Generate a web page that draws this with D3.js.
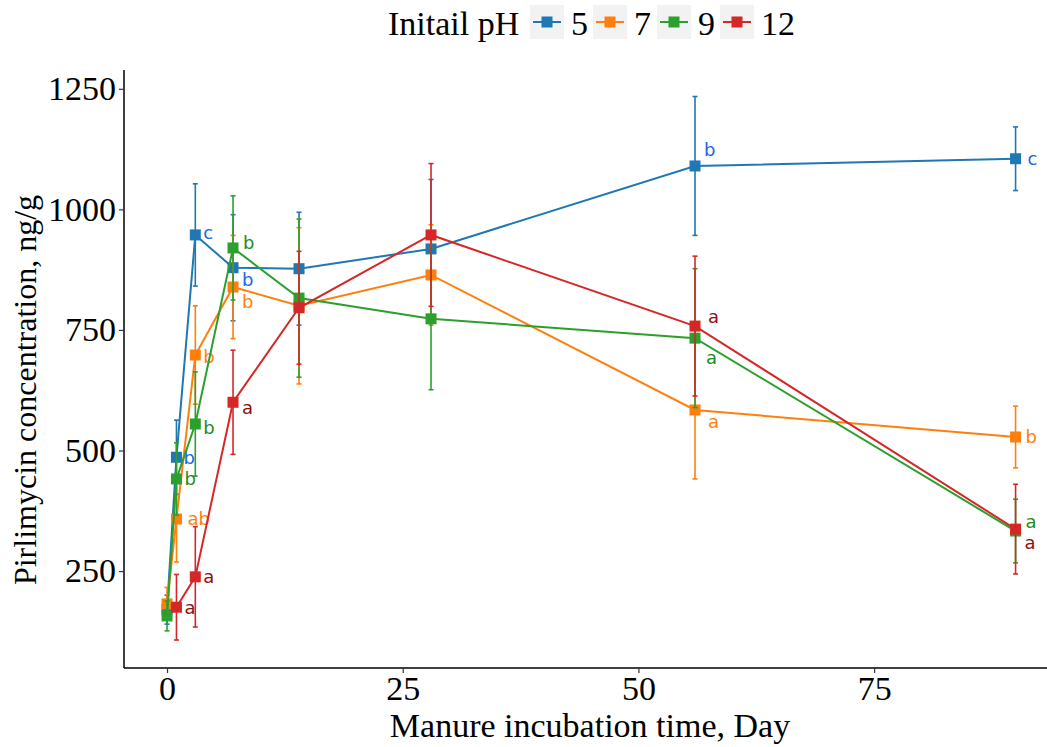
<!DOCTYPE html>
<html><head><meta charset="utf-8">
<script src="https://cdn.jsdelivr.net/npm/d3@7"></script>
<style>body{margin:0;background:#fff;} svg{display:block;}</style>
</head><body>
<svg id="chart" width="1047" height="747"></svg>
<script>
const days = [0, 1, 3, 7, 14, 28, 56, 90];
const groups = ["5", "7", "9", "12"];
const mean5  = [170, 486, 947, 879, 877, 918, 1090, 1105];
const err5   = [30, 77, 106, 110, 117, 144, 144, 66];
const mean7  = [182, 358, 698, 839, 800, 864, 584, 528];
const err7   = [34, 89, 102, 107, 162, 104, 143, 64];
const mean9  = [157, 441, 555, 920, 816, 773, 733, 333];
const err9   = [31, 75, 108, 108, 164, 147, 144, 66];
const mean12 = [null, 175, 238, 600, 796, 947, 758, 337];
const err12  = [null, 68, 104, 108, 117, 148, 145, 93];
const letters5  = ["", "b", "c", "b", "", "", "b", "c"];
const letters7  = ["", "ab", "b", "b", "", "", "a", "b"];
const letters9  = ["", "b", "b", "b", "", "", "a", "a"];
const letters12 = ["", "a", "a", "a", "", "", "a", "a"];
const xTicks = [0, 25, 50, 75];
const yTicks = [250, 500, 750, 1000, 1250];

// styles
const colors = ["#1f77b4", "#ff7f0e", "#2ca02c", "#d62728"];
const labelColors = ["#1a66e6", "#ff7f0e", "#1e8c1e", "#8b1010"];
const labelOffsets = [
  [[0,0],[12,0],[13,-2],[14,12],[0,0],[0,0],[14,-16],[17,0]],
  [[0,0],[16,0],[13,2],[14,15],[0,0],[0,0],[18,12],[15,0]],
  [[0,0],[13,0],[13,4],[15,-5],[0,0],[0,0],[16,20],[15,-9]],
  [[0,0],[13,0],[13,0],[14,5],[0,0],[0,0],[18,-9],[14,14]]
];

const means = [mean5, mean7, mean9, mean12];
const errs = [err5, err7, err9, err12];
const letters = [letters5, letters7, letters9, letters12];

const svg = d3.select("#chart");
const serif = "'Liberation Serif', 'Times New Roman', serif";
const x = d3.scaleLinear().domain([-4.5, 94.5]).range([124.6, 1058]);
const y = d3.scaleLinear().domain([49, 1289]).range([668, 70]);

// axes
const xAxis = svg.append("g").attr("transform", "translate(0,668)")
  .call(d3.axisBottom(x).tickValues(xTicks).tickFormat(d3.format("d")).tickSize(5).tickPadding(3));
const yAxis = svg.append("g").attr("transform", "translate(124,0)")
  .call(d3.axisLeft(y).tickValues(yTicks).tickFormat(d3.format("d")).tickSize(5).tickPadding(3));
[xAxis, yAxis].forEach(a => {
  a.select(".domain").attr("stroke", "#000").attr("stroke-width", 1.5);
  a.selectAll(".tick line").attr("stroke", "#333").attr("stroke-width", 1.2);
  a.selectAll(".tick text").attr("fill", "#000").attr("font-family", serif).attr("font-size", 34);
});
xAxis.select(".domain").attr("d", "M124,0H1047");
yAxis.select(".domain").attr("d", "M0,70V668");

// axis titles
svg.append("text").attr("x", 590).attr("y", 737).attr("text-anchor", "middle")
  .attr("font-family", serif).attr("font-size", 34).text("Manure incubation time, Day");
svg.append("text").attr("transform", "translate(36,390) rotate(-90)").attr("text-anchor", "middle")
  .attr("font-family", serif).attr("font-size", 32).text("Pirlimycin concentration, ng/g");

// series
const line = d3.line().defined(d => d.v != null).x(d => x(d.day)).y(d => y(d.v));
groups.forEach((g, gi) => {
  const data = days.map((d, i) => ({day: d, v: means[gi][i], e: errs[gi][i], lab: letters[gi][i], off: labelOffsets[gi][i]}));
  const pts = data.filter(d => d.v != null);
  const gg = svg.append("g");
  pts.forEach(d => {
    gg.append("line").attr("x1", x(d.day)).attr("x2", x(d.day)).attr("y1", y(d.v - d.e)).attr("y2", y(d.v + d.e))
      .attr("stroke", colors[gi]).attr("stroke-width", 1.6);
    [d.v - d.e, d.v + d.e].forEach(v => {
      gg.append("line").attr("x1", x(d.day) - 2.5).attr("x2", x(d.day) + 2.5).attr("y1", y(v)).attr("y2", y(v))
        .attr("stroke", colors[gi]).attr("stroke-width", 1.6);
    });
  });
  gg.append("path").datum(pts).attr("d", line).attr("fill", "none").attr("stroke", colors[gi]).attr("stroke-width", 2);
  gg.selectAll("rect").data(pts).join("rect")
    .attr("x", d => x(d.day) - 5.5).attr("y", d => y(d.v) - 5.5).attr("width", 11).attr("height", 11)
    .attr("fill", colors[gi]);
  gg.selectAll("text.lab").data(pts.filter(d => d.lab)).join("text").attr("class", "lab")
    .attr("x", d => x(d.day) + d.off[0] - 5).attr("y", d => y(d.v) + d.off[1])
    .attr("dy", "0.35em").attr("font-family", "'DejaVu Sans', Verdana, sans-serif").attr("font-size", 18)
    .attr("fill", labelColors[gi]).text(d => d.lab);
});

// legend
const leg = svg.append("g");
leg.append("text").attr("x", 388).attr("y", 35).attr("font-family", serif).attr("font-size", 34).text("Initail pH");
const keyX = [530, 593, 657, 720];
groups.forEach((g, gi) => {
  const k = leg.append("g").attr("transform", `translate(${keyX[gi]},5)`);
  k.append("rect").attr("width", 34).attr("height", 34).attr("fill", "#f2f2f2");
  k.append("line").attr("x1", 3).attr("x2", 31).attr("y1", 17).attr("y2", 17).attr("stroke", colors[gi]).attr("stroke-width", 2);
  k.append("rect").attr("x", 11.5).attr("y", 11.5).attr("width", 11).attr("height", 11).attr("fill", colors[gi]);
  leg.append("text").attr("x", keyX[gi] + 41).attr("y", 35).attr("font-family", serif).attr("font-size", 34).text(g);
});
</script>
</body></html>
